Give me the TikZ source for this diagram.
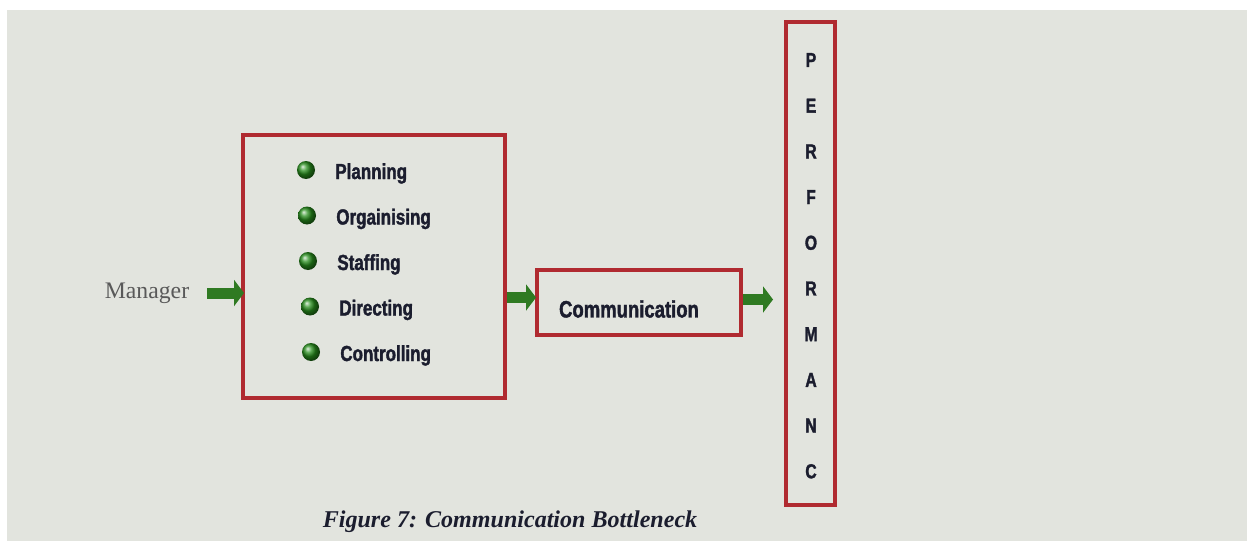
\documentclass[tikz,border=0pt]{standalone}
\usepackage{fontspec}
\setmainfont{Liberation Serif}
\newfontfamily\taskfont{Liberation Sans}[FakeStretch=0.78, BoldFeatures={FakeBold=1.6}]
\usepackage{tikz}
\usetikzlibrary{calc, positioning, arrows.meta, shadings}

\definecolor{boxred}{HTML}{B02A30}
\definecolor{arrowgreen}{HTML}{2F7A22}
\definecolor{inkblue}{HTML}{1B1D2E}
\definecolor{screen}{HTML}{E2E4DE}

\tikzset{
    redbox/.style={draw=boxred, line width=0.08cm, inner sep=0pt},
    greenarrow/.style={draw=arrowgreen, line width=0.22cm,
        -{Triangle[length=0.2cm, width=0.52cm]}},
    task/.style={font=\taskfont\bfseries\fontsize{12.4}{14}\selectfont, text=inkblue, anchor=base west, inner sep=0pt},
    letter/.style={font=\taskfont\bfseries\fontsize{11.5}{13}\selectfont, text=inkblue, inner sep=0pt}
}

\begin{document}
\begin{tikzpicture}[x=0.02cm, y=-0.02cm]
    \useasboundingbox (0,0) rectangle (1247,541);
    \fill[screen] (7,10) rectangle (1247,541);

    % boxes
    \node[redbox, minimum width=5.24cm, minimum height=5.26cm] (tasks) at (374,266.5) {};
    \node[redbox, minimum width=4.08cm, minimum height=1.3cm] (comm) at (639,302.5) {};
    \node[redbox, minimum width=0.98cm, minimum height=9.66cm] (perf) at (810.5,263.5) {};

    \node[inner sep=0pt, text=black!65, font=\fontsize{13.5}{16}\selectfont] (manager) at (147,293) {Manager};
    \node[font=\taskfont\bfseries\fontsize{13.5}{16}\selectfont, text=inkblue, inner sep=0pt] (commtext) at (629,309) {Communication};

    % the five functions with their bullets
    \foreach \i/\x/\t in {0/306/Planning,1/307/Orgainising,2/308/Staffing,3/310/Directing,4/311/Controlling} {
        \shade[ball color=arrowgreen!85!green] (\x,170+45.5*\i) circle (0.18cm);
        \node[task] (fn\i) at (\x+29,179+45.5*\i) {\t};
    }

    % letters down the tall box
    \foreach \j/\l in {0/P,1/E,2/R,3/F,4/O,5/R,6/M,7/A,8/N,9/C} {
        \node[letter] (perf\j) at (811,60+45.7*\j) {\l};
    }

    % arrows
    \draw[greenarrow, shorten <=0.36cm, shorten >=-0.06cm] (manager.east) -- (manager.east -| tasks.west);
    \draw[greenarrow, shorten >=-0.02cm] ([yshift=0.1cm]comm.west -| tasks.east) -- ([yshift=0.1cm]comm.west);
    \draw[greenarrow, shorten >=0.22cm] ([yshift=0.06cm]comm.east) -- ([yshift=0.06cm]comm.east -| perf.west);

    \node[font=\bfseries\itshape\fontsize{13.7}{16}\selectfont, text=inkblue, inner sep=0pt] (caption) at (510,522) {Figure 7: Communication Bottleneck};
\end{tikzpicture}
\end{document}
